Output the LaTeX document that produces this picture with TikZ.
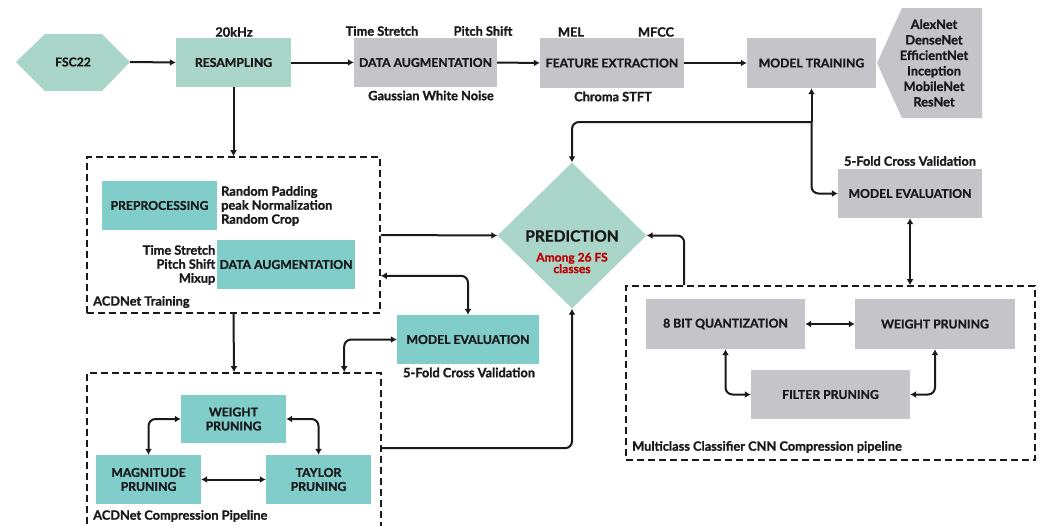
\documentclass[tikz,border=0pt]{standalone}
\usepackage{fontspec}
\setmainfont{Lato}[BoldFeatures={FakeBold=1.2}]
\usetikzlibrary{arrows.meta,shapes.geometric,calc}
\definecolor{lteal}{HTML}{AAD5C9}
\definecolor{mteal}{HTML}{80CDC9}
\definecolor{lgray}{HTML}{C5C4C9}
\definecolor{ink}{HTML}{1A1A1A}
\definecolor{redtxt}{HTML}{C00000}
\begin{document}
\begin{tikzpicture}[x=1pt,y=-1pt,
  font=\fontsize{12.2}{14}\selectfont\bfseries, text=ink,
  box/.style={rectangle, inner sep=0pt, align=center, minimum width=#1},
  tealA/.style={box=#1, fill=lteal, minimum height=49},
  tealB/.style={box=#1, fill=mteal, minimum height=49},
  grayb/.style={box=#1, fill=lgray, minimum height=49},
  lbl/.style={font=\fontsize{12.8}{14}\selectfont\bfseries, inner sep=0pt},
  dbox/.style={draw=ink, line width=1.6pt, dash pattern=on 7pt off 4pt, inner sep=0pt},
  conn/.style={draw=ink, line width=2pt, -{Latex[length=6pt,width=7pt]}},
  dconn/.style={draw=ink, line width=2pt, {Latex[length=6pt,width=7pt]}-{Latex[length=6pt,width=7pt]}},
  rc/.style={rounded corners=7pt}]
\clip (0,0) rectangle (1044,525);
\fill[white] (0,0) rectangle (1044,525);

% shaped backgrounds
\fill[lteal] (16,62)--(45,34)--(102,34)--(130,62)--(102,91)--(45,91)--cycle;
\fill[lgray] (877,63)--(902,8)--(982,8)--(982,118)--(902,118)--cycle;

% top row
\node[box=114, minimum height=57] (fsc) at (73,62) {FSC22};
\node[tealA=115] (res) at (233.5,62.5) {RESAMPLING};
\node[grayb=143] (da1) at (425.5,62.5) {DATA AUGMENTATION};
\node[grayb=144, minimum height=50] (fe) at (612,63) {FEATURE EXTRACTION};
\node[grayb=129, minimum height=50] (mt) at (811.5,63) {MODEL TRAINING};
\node[box=105, minimum height=110] (models) at (930,63) {};
\node[lbl, align=center, font=\fontsize{12.8}{15.5}\selectfont\bfseries] (modtxt) at (934,63) {AlexNet\\DenseNet\\EfficientNet\\Inception\\MobileNet\\ResNet};

\node[lbl] (l20k) at (234,32) {20kHz};
\node[lbl] (lts1) at (382,31) {Time Stretch};
\node[lbl] (lps1) at (483,31) {Pitch Shift};
\node[lbl] (lgwn) at (431,95.5) {Gaussian White Noise};
\node[lbl] (lmel) at (571,32) {MEL};
\node[lbl] (lmfcc) at (656,32) {MFCC};
\node[lbl] (lcs) at (613,96.5) {Chroma STFT};

% ACDNet training
\node[dbox, minimum width=293, minimum height=156] (acdt) at (233.5,235) {};
\node[tealB=115] (prep) at (159.5,205.5) {PREPROCESSING};
\node[tealB=138] (da2) at (286,264.5) {DATA AUGMENTATION};
\node[lbl, align=left, anchor=west, font=\fontsize{12.8}{14}\selectfont\bfseries] (prepl) at (221,206) {Random Padding\\peak Normalization\\Random Crop};
\node[lbl, align=right, anchor=east, font=\fontsize{12.8}{14}\selectfont\bfseries] (da2l) at (215.5,265) {Time Stretch\\Pitch Shift\\Mixup};
\node[lbl, anchor=west] (acdtl) at (93,302) {ACDNet Training};

% model evaluation (teal)
\node[tealB=142] (me1) at (468,339.5) {MODEL EVALUATION};
\node[lbl] (me1l) at (469,372.5) {5-Fold Cross Validation};

% prediction
\node[diamond, fill=lteal, minimum width=149, minimum height=146, inner sep=0pt] (pred) at (572,235.5) {};
\node[font=\fontsize{15.5}{17}\selectfont\bfseries, inner sep=0pt] (predt) at (572,236) {PREDICTION};
\node[lbl, text=redtxt, align=center, font=\fontsize{12}{11.5}\selectfont\bfseries] (predr) at (572,263) {Among 26 FS\\classes};

% ACDNet compression
\node[dbox, minimum width=294, minimum height=170] (acdc) at (234,458) {};
\node[tealB=105, minimum height=48] (wp1) at (233.5,419) {WEIGHT\\PRUNING};
\node[tealB=105] (mag) at (148.5,479.5) {MAGNITUDE\\PRUNING};
\node[tealB=105] (tay) at (318.5,479.5) {TAYLOR\\PRUNING};
\node[lbl, anchor=west] (acdcl) at (93,516) {ACDNet Compression Pipeline};

% right side
\node[grayb=144] (me2) at (910,193.5) {MODEL EVALUATION};
\node[lbl] (me2l) at (910,161) {5-Fold Cross Validation};
\node[dbox, minimum width=409, minimum height=174] (mcc) at (830.5,373) {};
\node[grayb=159, minimum height=50] (q8) at (725.5,324) {8 BIT QUANTIZATION};
\node[grayb=160, minimum height=50] (wp2) at (935,324) {WEIGHT PRUNING};
\node[grayb=159] (fp) at (830.5,394.5) {FILTER PRUNING};
\node[lbl, anchor=west] (mccl) at (632,447) {Multiclass Classifier CNN Compression pipeline};

% connectors
\draw[conn] (fsc.east) -- (res.west);
\draw[conn] (res.east) -- (da1.west);
\draw[conn] (da1.east) -- (fe.west);
\draw[conn] (fe.east) -- (mt.west);
\draw[conn] (res.south) -- (acdt.north);
\draw[conn] (acdt.east) -- (pred.west);
\coordinate (a1) at ($(acdt.south east)+(0,-38)$);
\draw[dconn, rc] (a1) -| (me1.north);
\draw[conn] (acdt.south) -- (acdc.north);
\coordinate (a2) at ($(acdc.north west)+(258,0)$);
\draw[dconn, rc] (me1.west) -| (a2);
\coordinate (a3) at ($(acdc.north east)+(0,76)$);
\draw[conn, rc] (a3) -| (pred.south);

\coordinate (jA) at (811.5,122);
\draw[conn] (jA) -- (mt.south);
\draw[conn, rc] (jA) -| (pred.north);
\draw[conn, rc] (jA) |- (me2.west);
\draw[dconn] (me2.south) -- (me2.south |- mcc.north);
\coordinate (a4) at ($(mcc.north west)+(59,0)$);
\draw[conn, rc] (a4) |- (pred.east);

\draw[dconn] (q8.east) -- (wp2.west);
\draw[dconn, rc] (q8.south) |- (fp.west);
\draw[dconn, rc] (wp2.south) |- (fp.east);

\draw[dconn, rc] (wp1.west) -| (mag.north);
\draw[dconn, rc] (wp1.east) -| (tay.north);
\draw[dconn] (mag.east) -- (tay.west);
\end{tikzpicture}
\end{document}
